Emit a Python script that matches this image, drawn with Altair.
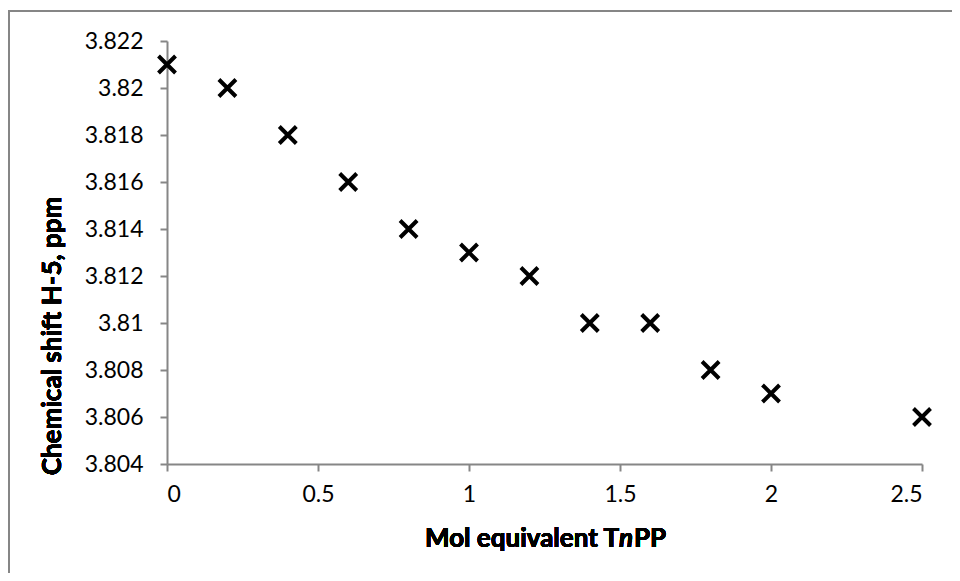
import altair as alt
import pandas as pd

mol_eq = [0, 0.2, 0.4, 0.6, 0.8, 1.0, 1.2, 1.4, 1.6, 1.8, 2.0, 2.5]
shift = [3.821, 3.820, 3.818, 3.816, 3.814, 3.813, 3.812, 3.810, 3.810, 3.808, 3.807, 3.806]
x_ticks = [0, 0.5, 1, 1.5, 2, 2.5]
y_ticks = [3.804, 3.806, 3.808, 3.810, 3.812, 3.814, 3.816, 3.818, 3.820, 3.822]

df = pd.DataFrame({"x": mol_eq, "y": shift})

W, H = 755, 423
FONT = "Lato"
GRAY = "#868686"
TFS = 26

axis_style = dict(grid=False, domainColor=GRAY, domainWidth=2,
                  tickColor=GRAY, tickWidth=2, tickSize=7,
                  labelFont=FONT, labelFontSize=23, labelColor="black")

points = alt.Chart(df).mark_point(
    shape="M-1,-1L1,1M-1,1L1,-1",
    filled=False,
    stroke="black",
    strokeWidth=4,
    size=290,
    opacity=1,
).encode(
    x=alt.X("x:Q", scale=alt.Scale(domain=[0, 2.5], nice=False, zero=False),
            axis=alt.Axis(values=x_ticks, format="~g", title=None, labelPadding=12, **axis_style)),
    y=alt.Y("y:Q", scale=alt.Scale(domain=[3.804, 3.822], nice=False, zero=False),
            axis=alt.Axis(values=y_ticks, format="~g", title=None, labelPadding=17, **axis_style)),
)

border = alt.Chart(df).mark_rect(fill=None, stroke=GRAY, strokeWidth=2).encode(
    x=alt.value(-158), x2=alt.value(W + 100), y=alt.value(-30), y2=alt.value(H + 200)
)

ytitle = alt.Chart(df).mark_text(
    text="Chemical shift H-5, ppm", angle=270, font=FONT, fontSize=TFS, fontWeight="bold",
    align="center", baseline="middle", color="black"
).encode(x=alt.value(-114), y=alt.value(295))

TY = 498
xt1 = alt.Chart(df).mark_text(
    text="Mol equivalent T", font=FONT, fontSize=TFS, fontWeight="bold",
    align="right", baseline="middle", color="black"
).encode(x=alt.value(452), y=alt.value(TY))
xt2 = alt.Chart(df).mark_text(
    text="n", font=FONT, fontSize=TFS, fontWeight="bold", fontStyle="italic",
    align="left", baseline="middle", color="black"
).encode(x=alt.value(452), y=alt.value(TY))
xt3 = alt.Chart(df).mark_text(
    text="PP", font=FONT, fontSize=TFS, fontWeight="bold",
    align="left", baseline="middle", color="black"
).encode(x=alt.value(467), y=alt.value(TY))

chart = alt.layer(border, points, ytitle, xt1, xt2, xt3).properties(
    width=W, height=H,
    background="white",
    autosize=alt.AutoSizeParams(type="none"),
    padding={"left": 159, "top": 33, "right": 30, "bottom": 109},
).configure_view(stroke=None)

chart.save("out.html", embed_options={"renderer": "svg", "actions": False})
